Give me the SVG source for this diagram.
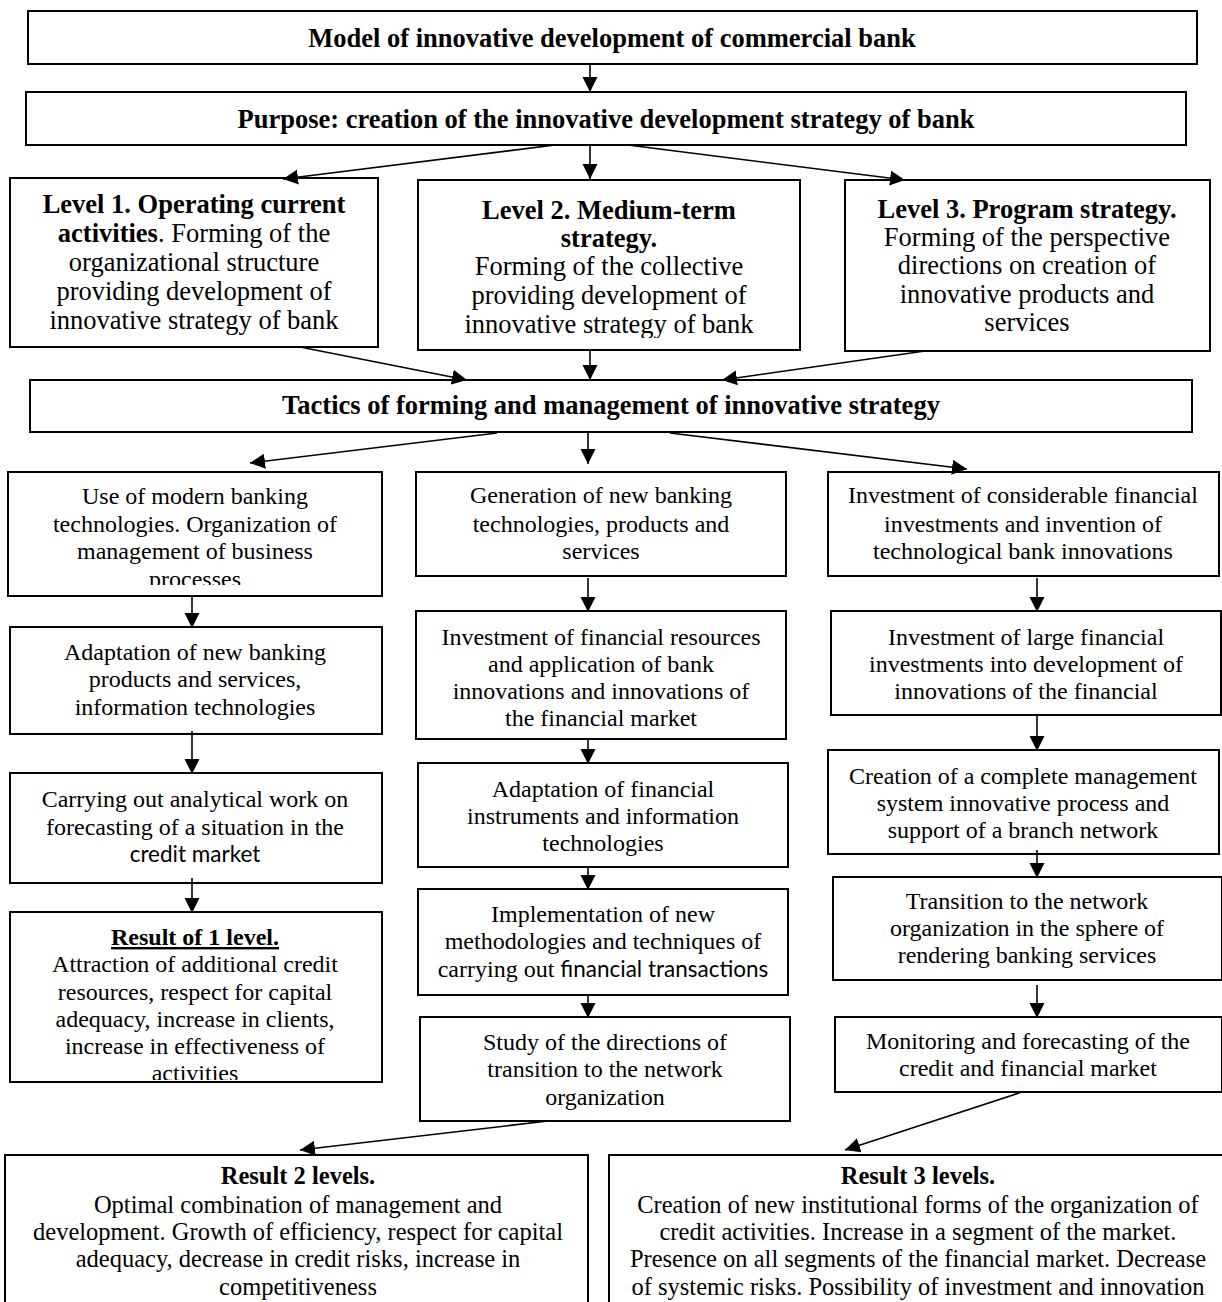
<svg xmlns="http://www.w3.org/2000/svg" width="1222" height="1302" viewBox="0 0 1222 1302">
<style>
.box{fill:#fff;stroke:#000;stroke-width:2}
.t{font-family:"Liberation Serif","Times New Roman",serif;font-size:24px;fill:#000;text-anchor:middle}
.l{font-family:"Liberation Serif","Times New Roman",serif;font-size:26.5px;fill:#000;text-anchor:middle}
.h{font-family:"Liberation Serif","Times New Roman",serif;font-size:26.5px;font-weight:bold;fill:#000;text-anchor:middle}
.b{font-weight:bold}
.s{font-family:Lato,"Liberation Sans",sans-serif;font-size:22.5px}
.bt{font-family:"Liberation Serif","Times New Roman",serif;font-size:24.5px;fill:#000;text-anchor:middle}
.con line{stroke:#000;stroke-width:1.6;marker-end:url(#ah)}
</style>
<defs>
<marker id="ah" markerWidth="16" markerHeight="16" refX="15" refY="7.5" orient="auto" markerUnits="userSpaceOnUse"><path d="M0,0 L15,7.5 L0,15 z" fill="#000"/></marker>
<clipPath id="cL1"><rect x="10" y="178" width="368" height="158"/></clipPath>
<clipPath id="cL2"><rect x="418" y="180" width="382" height="158"/></clipPath>
<clipPath id="cA1"><rect x="8" y="472" width="374" height="113"/></clipPath>
<clipPath id="cA4"><rect x="10" y="912" width="372" height="168"/></clipPath>
</defs>
<rect width="1222" height="1302" fill="#fff"/>

<g id="title"><rect class="box" x="28" y="11" width="1169" height="53"/><text class="h" x="612" y="47">Model of innovative development of commercial bank</text></g>
<g id="purpose"><rect class="box" x="26" y="92" width="1160" height="53"/><text class="h" x="606" y="128">Purpose: creation of the innovative development strategy of bank</text></g>

<g id="level1"><rect class="box" x="10" y="178" width="368" height="169"/>
<g clip-path="url(#cL1)"><text class="l" x="194" y="213"><tspan class="b">Level 1. Operating current</tspan></text>
<text class="l" x="194" y="242"><tspan class="b">activities</tspan>. Forming of the</text>
<text class="l" x="194" y="271">organizational structure</text>
<text class="l" x="194" y="300">providing development of</text>
<text class="l" x="194" y="329">innovative strategy of bank</text></g></g>

<g id="level2"><rect class="box" x="418" y="180" width="382" height="170"/>
<g clip-path="url(#cL2)"><text class="l" x="609" y="219"><tspan class="b">Level 2. Medium-term</tspan></text>
<text class="l" x="609" y="247"><tspan class="b">strategy.</tspan></text>
<text class="l" x="609" y="275">Forming of the collective</text>
<text class="l" x="609" y="304">providing development of</text>
<text class="l" x="609" y="333">innovative strategy of bank</text></g></g>

<g id="level3"><rect class="box" x="845" y="180" width="365" height="171"/>
<text class="l" x="1027" y="218"><tspan class="b">Level 3. Program strategy.</tspan></text>
<text class="l" x="1027" y="246">Forming of the perspective</text>
<text class="l" x="1027" y="274">directions on creation of</text>
<text class="l" x="1027" y="303">innovative products and</text>
<text class="l" x="1027" y="331">services</text></g>

<g id="tactics"><rect class="box" x="30" y="380" width="1162" height="52"/><text class="h" x="611" y="414">Tactics of forming and management of innovative strategy</text></g>

<g id="a1"><rect class="box" x="8" y="472" width="374" height="124"/>
<g clip-path="url(#cA1)"><text class="t" x="195" y="504">Use of modern banking</text>
<text class="t" x="195" y="532">technologies. Organization of</text>
<text class="t" x="195" y="559">management of business</text>
<text class="t" x="195" y="587">processes</text></g></g>

<g id="a2"><rect class="box" x="10" y="627" width="372" height="107"/>
<text class="t" x="195" y="660">Adaptation of new banking</text>
<text class="t" x="195" y="687">products and services,</text>
<text class="t" x="195" y="715">information technologies</text></g>

<g id="a3"><rect class="box" x="10" y="773" width="372" height="110"/>
<text class="t" x="195" y="807">Carrying out analytical work on</text>
<text class="t" x="195" y="835">forecasting of a situation in the</text>
<text class="t s" x="195" y="862">credit market</text></g>

<g id="a4"><rect class="box" x="10" y="912" width="372" height="170"/>
<g clip-path="url(#cA4)"><text class="t" x="195" y="945"><tspan class="b" text-decoration="underline">Result of 1 level.</tspan></text>
<text class="t" x="195" y="972">Attraction of additional credit</text>
<text class="t" x="195" y="1000">resources, respect for capital</text>
<text class="t" x="195" y="1027">adequacy, increase in clients,</text>
<text class="t" x="195" y="1054">increase in effectiveness of</text>
<text class="t" x="195" y="1081">activities</text></g></g>

<g id="b1"><rect class="box" x="416" y="472" width="370" height="104"/>
<text class="t" x="601" y="503">Generation of new banking</text>
<text class="t" x="601" y="532">technologies, products and</text>
<text class="t" x="601" y="559">services</text></g>

<g id="b2"><rect class="box" x="416" y="611" width="370" height="128"/>
<text class="t" x="601" y="645">Investment of financial resources</text>
<text class="t" x="601" y="672">and application of bank</text>
<text class="t" x="601" y="699">innovations and innovations of</text>
<text class="t" x="601" y="726">the financial market</text></g>

<g id="b3"><rect class="box" x="418" y="763" width="370" height="104"/>
<text class="t" x="603" y="797">Adaptation of financial</text>
<text class="t" x="603" y="824">instruments and information</text>
<text class="t" x="603" y="851">technologies</text></g>

<g id="b4"><rect class="box" x="418" y="889" width="370" height="106"/>
<text class="t" x="603" y="922">Implementation of new</text>
<text class="t" x="603" y="949">methodologies and techniques of</text>
<text class="t" x="603" y="977">carrying out <tspan class="s">financial transactions</tspan></text></g>

<g id="b5"><rect class="box" x="420" y="1017" width="370" height="104"/>
<text class="t" x="605" y="1050">Study of the directions of</text>
<text class="t" x="605" y="1077">transition to the network</text>
<text class="t" x="605" y="1105">organization</text></g>

<g id="c1"><rect class="box" x="828" y="472" width="391" height="104"/>
<text class="t" x="1023" y="503">Investment of considerable financial</text>
<text class="t" x="1023" y="532">investments and invention of</text>
<text class="t" x="1023" y="559">technological bank innovations</text></g>

<g id="c2"><rect class="box" x="831" y="611" width="390" height="104"/>
<text class="t" x="1026" y="645">Investment of large financial</text>
<text class="t" x="1026" y="672">investments into development of</text>
<text class="t" x="1026" y="699">innovations of the financial</text></g>

<g id="c3"><rect class="box" x="828" y="750" width="391" height="104"/>
<text class="t" x="1023" y="784">Creation of a complete management</text>
<text class="t" x="1023" y="811">system innovative process and</text>
<text class="t" x="1023" y="838">support of a branch network</text></g>

<g id="c4"><rect class="box" x="833" y="877" width="389" height="103"/>
<text class="t" x="1027" y="909">Transition to the network</text>
<text class="t" x="1027" y="936">organization in the sphere of</text>
<text class="t" x="1027" y="963">rendering banking services</text></g>

<g id="c5"><rect class="box" x="835" y="1017" width="387" height="75"/>
<text class="t" x="1028" y="1049">Monitoring and forecasting of the</text>
<text class="t" x="1028" y="1076">credit and financial market</text></g>

<g id="d1"><rect class="box" x="5" y="1155" width="583" height="160"/>
<text class="bt" x="298" y="1184"><tspan class="b">Result 2 levels.</tspan></text>
<text class="bt" x="298" y="1213">Optimal combination of management and</text>
<text class="bt" x="298" y="1240">development. Growth of efficiency, respect for capital</text>
<text class="bt" x="298" y="1267">adequacy, decrease in credit risks, increase in</text>
<text class="bt" x="298" y="1295">competitiveness</text></g>

<g id="d2"><rect class="box" x="609" y="1155" width="625" height="160"/>
<text class="bt" x="918" y="1184"><tspan class="b">Result 3 levels.</tspan></text>
<text class="bt" x="918" y="1213">Creation of new institutional forms of the organization of</text>
<text class="bt" x="918" y="1240">credit activities. Increase in a segment of the market.</text>
<text class="bt" x="918" y="1267">Presence on all segments of the financial market. Decrease</text>
<text class="bt" x="918" y="1295">of systemic risks. Possibility of investment and innovation</text></g>

<g id="connectors" class="con">
<line x1="590" y1="64" x2="590" y2="92"/>
<line x1="555" y1="145" x2="283" y2="179"/>
<line x1="590" y1="145" x2="590" y2="179"/>
<line x1="628" y1="145" x2="905" y2="180"/>
<line x1="300" y1="347" x2="467" y2="380"/>
<line x1="590" y1="350" x2="590" y2="380"/>
<line x1="925" y1="351" x2="722" y2="380"/>
<line x1="497" y1="433" x2="250" y2="463"/>
<line x1="588" y1="433" x2="588" y2="464"/>
<line x1="670" y1="433" x2="967" y2="469"/>
<line x1="192" y1="596" x2="192" y2="628"/>
<line x1="192" y1="731" x2="192" y2="774"/>
<line x1="192" y1="878" x2="192" y2="913"/>
<line x1="588" y1="578" x2="588" y2="612"/>
<line x1="588" y1="739" x2="588" y2="764"/>
<line x1="588" y1="867" x2="588" y2="890"/>
<line x1="588" y1="995" x2="588" y2="1018"/>
<line x1="1037" y1="578" x2="1037" y2="612"/>
<line x1="1037" y1="715" x2="1037" y2="751"/>
<line x1="1037" y1="850" x2="1037" y2="878"/>
<line x1="1037" y1="985" x2="1037" y2="1018"/>
<line x1="548" y1="1121" x2="300" y2="1150"/>
<line x1="1022" y1="1092" x2="845" y2="1150"/>
</g>
</svg>
